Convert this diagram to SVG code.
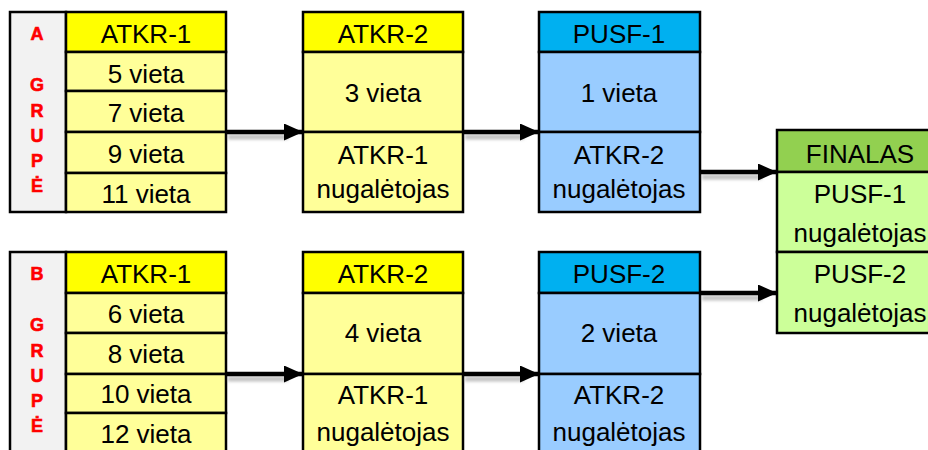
<svg xmlns="http://www.w3.org/2000/svg" width="928" height="450" viewBox="0 0 928 450">
<style>
.b{stroke:#000;stroke-width:2.5}
.gr{fill:#F2F2F2}.yh{fill:#FFFF00}.yl{fill:#FFFF99}.bh{fill:#00B0F0}.bl{fill:#99CCFF}.gh{fill:#92D050}.gl{fill:#CCFF99}
.t{font-family:"Liberation Sans",Arial,sans-serif;font-size:26px;fill:#000;text-anchor:middle}
.r{font-family:"Liberation Sans",Arial,sans-serif;font-size:18px;font-weight:bold;fill:#FF0000;stroke:#FF0000;stroke-width:0.6;text-anchor:middle}
.ln{stroke:#000;stroke-width:4.5;fill:none}
.sh{stroke:#999;stroke-width:5;fill:none;opacity:0.6}
</style>
<defs>
<marker id="ah" markerUnits="userSpaceOnUse" markerWidth="19" markerHeight="17" refX="18" refY="8.5" orient="auto"><polygon points="0,0 19,8.5 0,17" fill="#000"/></marker>
<filter id="bl" x="-10%" y="-100%" width="120%" height="300%"><feGaussianBlur stdDeviation="1.5"/></filter>
</defs>
<rect width="928" height="450" fill="#fff"/>

<g id="groupA">
<rect class="gr b" x="10" y="12" width="56" height="200"/>
<text class="r" x="37" y="40">A</text>
<text class="r" x="37" y="90.5">G</text>
<text class="r" x="37" y="116.5">R</text>
<text class="r" x="37" y="141.5">U</text>
<text class="r" x="37" y="166.5">P</text>
<text class="r" x="37" y="191.5">Ė</text>
</g>
<g id="atkr1A">
<rect class="yh b" x="66" y="12" width="160" height="40"/>
<rect class="yl b" x="66" y="52" width="160" height="39"/>
<rect class="yl b" x="66" y="91" width="160" height="41"/>
<rect class="yl b" x="66" y="132" width="160" height="41"/>
<rect class="yl b" x="66" y="173" width="160" height="39"/>
<text class="t" x="146" y="43">ATKR-1</text>
<text class="t" x="146" y="83">5 vieta</text>
<text class="t" x="146" y="122">7 vieta</text>
<text class="t" x="146" y="163">9 vieta</text>
<text class="t" x="146" y="203">11 vieta</text>
</g>
<g id="atkr2A">
<rect class="yh b" x="303" y="12" width="160" height="40"/>
<rect class="yl b" x="303" y="52" width="160" height="80"/>
<rect class="yl b" x="303" y="132" width="160" height="80"/>
<text class="t" x="383" y="43">ATKR-2</text>
<text class="t" x="383" y="102">3 vieta</text>
<text class="t" x="383" y="164">ATKR-1</text>
<text class="t" x="383" y="198">nugalėtojas</text>
</g>
<g id="pusf1">
<rect class="bh b" x="539" y="12" width="161" height="40"/>
<rect class="bl b" x="539" y="52" width="161" height="80"/>
<rect class="bl b" x="539" y="132" width="161" height="80"/>
<text class="t" x="619" y="43">PUSF-1</text>
<text class="t" x="619" y="102">1 vieta</text>
<text class="t" x="619" y="164">ATKR-2</text>
<text class="t" x="619" y="198">nugalėtojas</text>
</g>

<g id="groupB">
<rect class="gr b" x="10" y="252" width="56" height="202"/>
<text class="r" x="37" y="279.5">B</text>
<text class="r" x="37" y="330.5">G</text>
<text class="r" x="37" y="356.5">R</text>
<text class="r" x="37" y="381.5">U</text>
<text class="r" x="37" y="406.5">P</text>
<text class="r" x="37" y="431.5">Ė</text>
</g>
<g id="atkr1B">
<rect class="yh b" x="66" y="252" width="160" height="41"/>
<rect class="yl b" x="66" y="293" width="160" height="40"/>
<rect class="yl b" x="66" y="333" width="160" height="41"/>
<rect class="yl b" x="66" y="374" width="160" height="39"/>
<rect class="yl b" x="66" y="413" width="160" height="41"/>
<text class="t" x="146" y="283">ATKR-1</text>
<text class="t" x="146" y="323">6 vieta</text>
<text class="t" x="146" y="363">8 vieta</text>
<text class="t" x="146" y="403">10 vieta</text>
<text class="t" x="146" y="443">12 vieta</text>
</g>
<g id="atkr2B">
<rect class="yh b" x="303" y="252" width="160" height="41"/>
<rect class="yl b" x="303" y="293" width="160" height="81"/>
<rect class="yl b" x="303" y="374" width="160" height="80"/>
<text class="t" x="383" y="283">ATKR-2</text>
<text class="t" x="383" y="342">4 vieta</text>
<text class="t" x="383" y="404">ATKR-1</text>
<text class="t" x="383" y="441">nugalėtojas</text>
</g>
<g id="pusf2">
<rect class="bh b" x="539" y="252" width="161" height="41"/>
<rect class="bl b" x="539" y="293" width="161" height="81"/>
<rect class="bl b" x="539" y="374" width="161" height="80"/>
<text class="t" x="619" y="283">PUSF-2</text>
<text class="t" x="619" y="342">2 vieta</text>
<text class="t" x="619" y="404">ATKR-2</text>
<text class="t" x="619" y="441">nugalėtojas</text>
</g>

<g id="finalas">
<rect class="gh b" x="777" y="130" width="170" height="42"/>
<rect class="gl b" x="777" y="172" width="170" height="80"/>
<rect class="gl b" x="777" y="252" width="170" height="81"/>
<text class="t" x="860" y="163">FINALAS</text>
<text class="t" x="860" y="203">PUSF-1</text>
<text class="t" x="860" y="242">nugalėtojas</text>
<text class="t" x="860" y="283">PUSF-2</text>
<text class="t" x="860" y="322">nugalėtojas</text>
</g>

<g id="connectors">
<g filter="url(#bl)">
<line class="sh" x1="228" y1="137" x2="288" y2="137"/>
<line class="sh" x1="465" y1="137" x2="524" y2="137"/>
<line class="sh" x1="702" y1="177" x2="762" y2="177"/>
<line class="sh" x1="702" y1="298" x2="762" y2="298"/>
<line class="sh" x1="228" y1="379" x2="288" y2="379"/>
<line class="sh" x1="465" y1="379" x2="524" y2="379"/>
</g>
<line class="ln" x1="227" y1="132" x2="302" y2="132" marker-end="url(#ah)"/>
<line class="ln" x1="464" y1="132" x2="538" y2="132" marker-end="url(#ah)"/>
<line class="ln" x1="701" y1="172" x2="776" y2="172" marker-end="url(#ah)"/>
<line class="ln" x1="701" y1="293" x2="776" y2="293" marker-end="url(#ah)"/>
<line class="ln" x1="227" y1="374" x2="302" y2="374" marker-end="url(#ah)"/>
<line class="ln" x1="464" y1="374" x2="538" y2="374" marker-end="url(#ah)"/>
</g>
</svg>
